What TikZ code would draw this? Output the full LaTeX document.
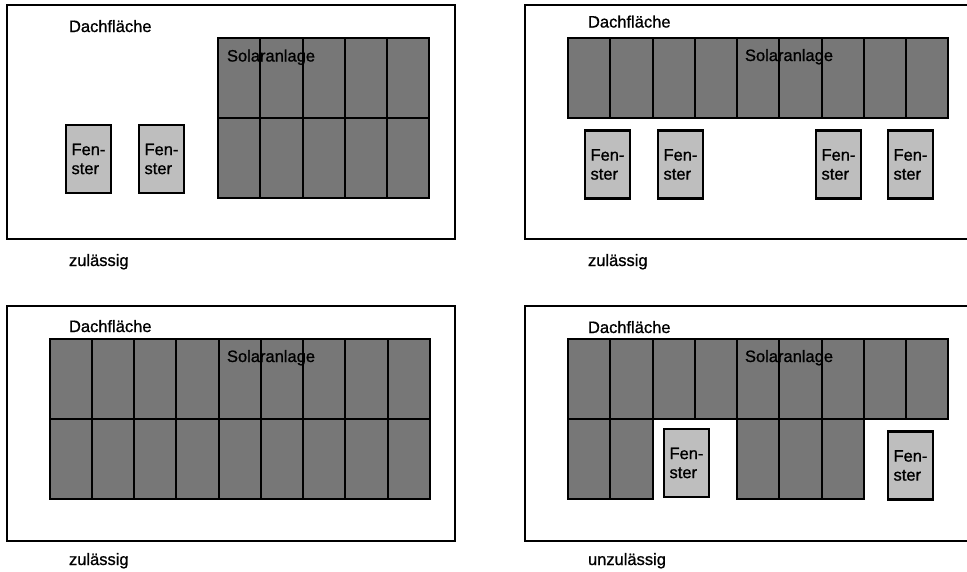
\documentclass[tikz,border=0pt]{standalone}
\usepackage{fontspec}
\setmainfont{Liberation Sans}
\newfontfamily\labfamily[FakeBold=0.9]{Liberation Sans}
\definecolor{solar}{RGB}{119,119,119}
\definecolor{window}{RGB}{190,190,190}
\newcommand\labfont{\labfamily\fontsize{16.5}{19}\selectfont}
\begin{document}
\begin{tikzpicture}[x=1pt,y=-1pt,line width=2pt,
  roof/.style={draw=black,fill=white},
  tile/.style={draw=black,fill=solar},
  fenster/.style={draw=black,fill=window,line width=2.6pt,inner sep=0pt,
    minimum width=45pt,minimum height=68pt,align=left,font=\labfont},
  lbl/.style={anchor=base west,inner sep=0pt,font=\labfont}]
\useasboundingbox (0,0) rectangle (967,571);
\clip (0,0) rectangle (967,571);

% ---------- panel 1 (top left) ----------
\draw[roof] (7,5) rectangle (455,239);
\node[lbl] (d1) at (68,32) {Dachfläche};
\foreach \i in {0,...,4}
  \foreach \j in {0,1}
    \draw[tile] (218+\i*42.25,38+\j*80) rectangle ++(42.25,80);
\node[lbl] (s1) at (226,61.5) {Solaranlage};
\node[fenster] (f11) at (88.5,159) {Fen-\\ster};
\node[fenster] (f12) at (161.5,159) {Fen-\\ster};
\node[lbl] (z1) at (68,266) {zulässig};

% ---------- panel 2 (top right) ----------
\draw[roof] (525,5) rectangle (985,239);
\node[lbl] (d2) at (587,27.5) {Dachfläche};
\foreach \i in {0,...,8}
  \draw[tile] (568+\i*42.25,38) rectangle ++(42.25,80);
\node[lbl] (s2) at (744,61) {Solaranlage};
\node[fenster] (f21) at (607.5,164.5) {Fen-\\ster};
\node[fenster] (f22) at (680.5,164.5) {Fen-\\ster};
\node[fenster] (f23) at (838.5,164.5) {Fen-\\ster};
\node[fenster] (f24) at (910.5,164.5) {Fen-\\ster};
\node[lbl] (z2) at (587,266) {zulässig};

% ---------- panel 3 (bottom left) ----------
\draw[roof] (7,306) rectangle (455,541);
\node[lbl] (d3) at (68,332) {Dachfläche};
\foreach \i in {0,...,8}
  \foreach \j in {0,1}
    \draw[tile] (49.5+\i*42.25,339+\j*80) rectangle ++(42.25,80);
\node[lbl] (s3) at (226,362) {Solaranlage};
\node[lbl] (z3) at (68,565) {zulässig};

% ---------- panel 4 (bottom right) ----------
\draw[roof] (525,306) rectangle (985,541);
\node[lbl] (d4) at (587,333) {Dachfläche};
\foreach \i in {0,...,8}
  \draw[tile] (568+\i*42.25,339) rectangle ++(42.25,80);
\foreach \i in {0,1,4,5,6}
  \draw[tile] (568+\i*42.25,419) rectangle ++(42.25,80);
\node[lbl] (s4) at (744,362) {Solaranlage};
\node[fenster] (f41) at (686.5,463) {Fen-\\ster};
\node[fenster] (f42) at (910.5,465.5) {Fen-\\ster};
\node[lbl] (z4) at (587,565) {unzulässig};
\end{tikzpicture}
\end{document}
